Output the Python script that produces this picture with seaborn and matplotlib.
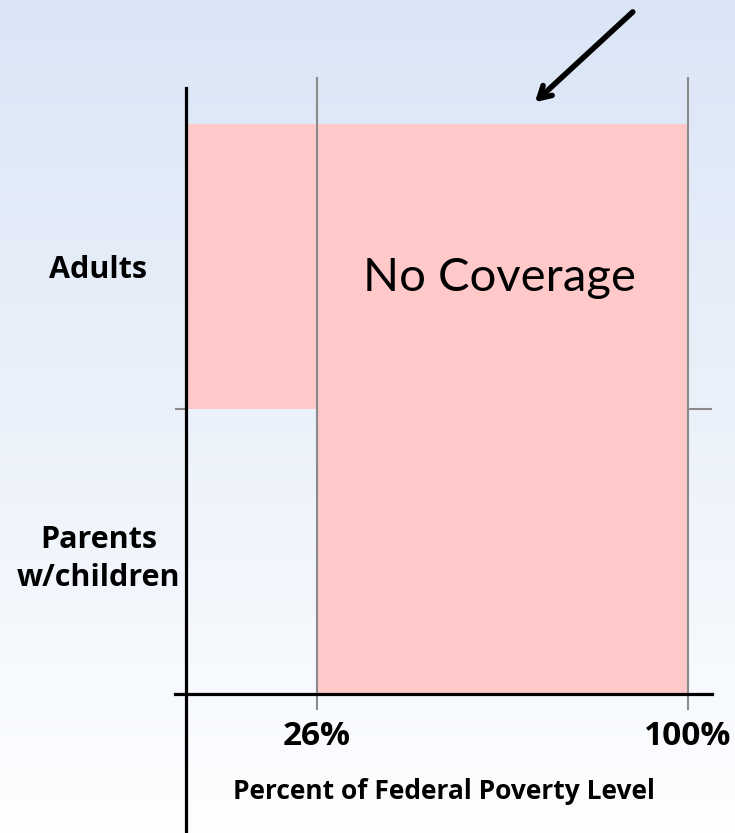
import numpy as np
import pandas as pd
import matplotlib
matplotlib.use('Agg')
import matplotlib.pyplot as plt
import seaborn as sns
from matplotlib.colors import to_rgb

# chart data
GROUPS = ['Parents\nw/children', 'Adults']
NO_COV_START = [26, 0]
NO_COV_END = [100, 100]
FPL_TICKS = [26, 100]
FPL_LABELS = ['26%', '100%']
NOTE = 'No Coverage'

sns.set_theme(style='white')
plt.rcParams['font.family'] = ['Open Sans', 'DejaVu Sans']

df = pd.DataFrame({'group': GROUPS, 'start': NO_COV_START, 'end': NO_COV_END})
df['pos'] = np.arange(len(df)) + 0.5

fig = plt.figure(figsize=(7.35, 8.33), dpi=100)

# background gradient (light blue -> white)
bg = fig.add_axes([0, 0, 1, 1], zorder=0)
top, bot = np.array(to_rgb('#DAE5F6')), np.array(to_rgb('#FDFEFF'))
t = np.linspace(0, 1, 256)[:, None, None]
bg.imshow(top * (1 - t) + bot * t, aspect='auto', extent=[0, 1, 0, 1])
bg.set_axis_off()

ax = fig.add_axes([175 / 735, 0, 537 / 735, 756 / 833], zorder=1)
ax.patch.set_alpha(0)
ax.set_xlim(-2.19, 104.78)
ax.set_ylim(-0.488, 2.165)

ax.barh(df['pos'], df['end'] - df['start'], left=df['start'], height=1,
        color='#FFC9C9', edgecolor='none', linewidth=0, zorder=1)

# gridlines at the FPL thresholds and row boundary ticks
ax.vlines(FPL_TICKS, -0.056, 2.165, color='#8a8a8a', lw=1.5, zorder=2, clip_on=False)
ax.hlines([1, 1], [ax.get_xlim()[0], 100], [0, ax.get_xlim()[1]],
          color='#8a8a8a', lw=1.5, zorder=2)

for s in ['top', 'right']:
    ax.spines[s].set_visible(False)
ax.spines['left'].set_position(('data', 0))
ax.spines['bottom'].set_position(('data', 0))
ax.spines['left'].set_bounds(-0.488, 2.126)
for s in ['left', 'bottom']:
    ax.spines[s].set_color('black')
    ax.spines[s].set_linewidth(2.3)
    ax.spines[s].set_zorder(3)

ax.set_yticks(df['pos'], df['group'])
ax.set_xticks(FPL_TICKS, FPL_LABELS)
ax.tick_params(axis='both', length=0)
ax.tick_params(axis='y', pad=63)
ax.tick_params(axis='x', pad=19)
for lab in ax.get_yticklabels():
    lab.set_ha('center')
    lab.set_multialignment('center')
    lab.set_fontsize(22)
    lab.set_fontweight('bold')
    lab.set_color('black')
    lab.set_linespacing(1.35)
for lab in ax.get_xticklabels():
    lab.set_fontsize(24)
    lab.set_fontweight('bold')
    lab.set_color('black')

ax.set_xlabel('Percent of Federal Poverty Level', fontsize=19, fontweight='bold',
              color='black', labelpad=18)

ax.text(62.5, 1.46, NOTE, fontsize=34, ha='center', va='center', color='black',
        family=['Lato', 'DejaVu Sans'], zorder=4)

ax.annotate('', xy=(69.1, 2.07), xytext=(89.4, 2.40), annotation_clip=False,
            arrowprops=dict(arrowstyle='->,head_length=0.7,head_width=0.4',
                            lw=4, color='black'))

fig.savefig('out.png', dpi=100)
